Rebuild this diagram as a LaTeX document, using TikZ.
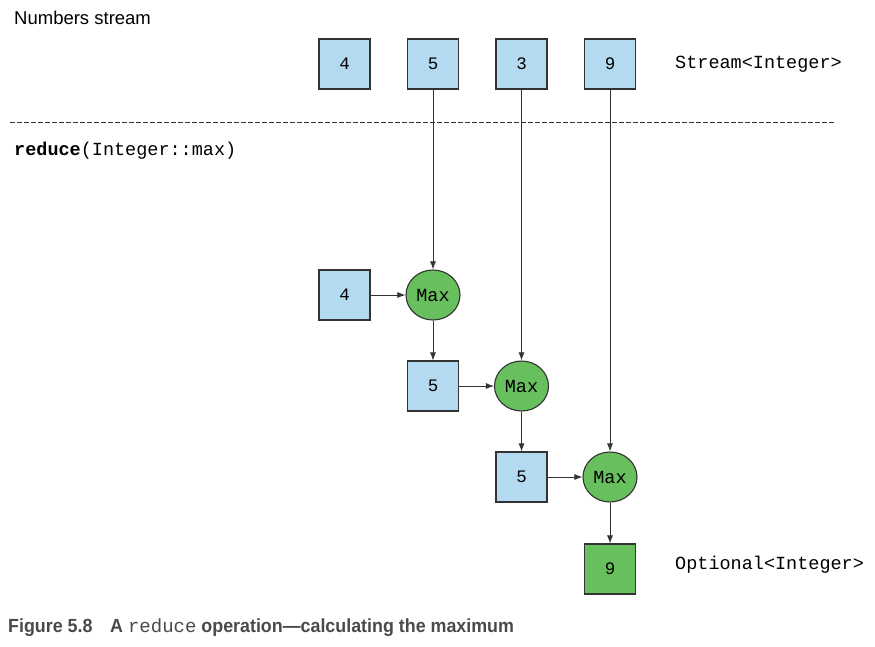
\documentclass[tikz,border=0pt]{standalone}
\usepackage{fontspec}
\setmainfont{Liberation Sans}
\setmonofont{Liberation Mono}
\newfontfamily\capfont[FakeStretch=0.94]{Liberation Sans}
\usetikzlibrary{arrows.meta,shapes.geometric}
\definecolor{boxblue}{HTML}{B4DAF2}
\definecolor{boxgreen}{HTML}{68BF5E}
\definecolor{edge}{HTML}{333333}
\definecolor{capgray}{HTML}{4A4A4A}
\tikzset{
  numbox/.style={draw=edge, line width=1.1pt, fill=boxblue, minimum width=51pt, minimum height=50pt, inner sep=0pt, font=\fontsize{17.5}{20}\selectfont\ttfamily},
  resbox/.style={numbox, fill=boxgreen},
  maxnode/.style={ellipse, draw=edge, line width=1.1pt, fill=boxgreen, minimum width=54pt, minimum height=50pt, inner sep=0pt, font=\fontsize{18.5}{20}\selectfont\ttfamily},
  conn/.style={draw=edge, line width=0.9pt, -{Latex[length=8pt,width=6pt]}},
  lbl/.style={anchor=west, inner sep=0pt, font=\fontsize{18.5}{22}\selectfont\ttfamily},
  captxt/.style={anchor=west, inner sep=0pt, text=capgray, font=\fontsize{19}{22}\selectfont\capfont\bfseries}
}
\begin{document}
\begin{tikzpicture}[x=1pt,y=-1pt]
\path[use as bounding box] (0,0) rectangle (875,646);
% header texts
\node[anchor=west, inner sep=0pt, font=\fontsize{18.5}{22}\selectfont] (title) at (14,18) {Numbers stream};
\node[lbl] (op) at (14,151) {\textbf{reduce}(Integer::max)};
\coordinate (dl) at (10,122);
\coordinate (dr) at (835,122);
\draw[edge, line width=0.8pt, dash pattern=on 4.5pt off 2.5pt] (dl) -- (dr);
% stream
\node[numbox] (s4) at (344.5,64) {4};
\node[numbox] (s5) at (433,64) {5};
\node[numbox] (s3) at (521.5,64) {3};
\node[numbox] (s9) at (610,64) {9};
\node[lbl] (stype) at (675,64) {Stream<Integer>};
% reduction
\node[numbox] (a4) at (344.5,295) {4};
\node[maxnode] (m1) at (433,295) {Max};
\node[numbox] (a5) at (433,386) {5};
\node[maxnode] (m2) at (521.5,386) {Max};
\node[numbox] (b5) at (521.5,477) {5};
\node[maxnode] (m3) at (610,477) {Max};
\node[resbox] (r9) at (610,569) {9};
\node[lbl] (otype) at (675,565) {Optional<Integer>};
% connectors
\draw[conn] (s5) -- (m1);
\draw[conn] (s3) -- (m2);
\draw[conn] (s9) -- (m3);
\draw[conn] (a4) -- (m1);
\draw[conn] (m1) -- (a5);
\draw[conn] (a5) -- (m2);
\draw[conn] (m2) -- (b5);
\draw[conn] (b5) -- (m3);
\draw[conn] (m3) -- (r9);
% caption
\node[captxt] (cap1) at (8,628) {Figure 5.8};
\node[captxt] (cap2) at (110,628) {A {\mdseries\ttfamily reduce} operation—calculating the maximum};
\end{tikzpicture}
\end{document}
